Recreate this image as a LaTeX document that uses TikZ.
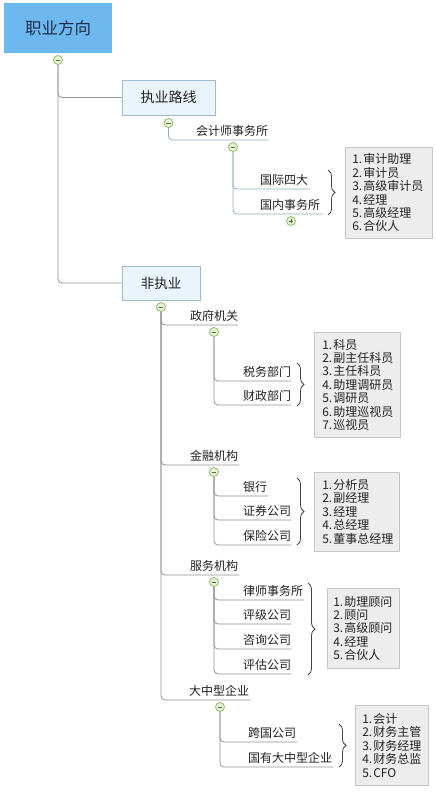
\documentclass[tikz,border=0pt]{standalone}
\usepackage{fontspec}
\setmainfont{Noto Sans CJK SC}
\usetikzlibrary{decorations.pathreplacing}
\definecolor{rootfill}{HTML}{6DB8EE}
\definecolor{roottext}{HTML}{1F2D4A}
\definecolor{subfill}{HTML}{EAF4FC}
\definecolor{subdraw}{HTML}{9DBBD3}
\definecolor{lineA}{HTML}{8FADBE}
\definecolor{lineB}{HTML}{939393}
\definecolor{graybox}{HTML}{EDEDED}
\definecolor{grayboxd}{HTML}{C6C6C6}
\definecolor{togg}{HTML}{86B85C}
\definecolor{toggfill}{HTML}{E6F3D6}
\definecolor{txt}{HTML}{222222}
\definecolor{bracec}{HTML}{444444}
\newcommand\lnum[1]{\makebox[11pt][l]{#1.}}
\begin{document}
\begin{tikzpicture}[x=1pt,y=-1pt,
  rootbox/.style={fill=rootfill, draw=none, minimum width=108pt, minimum height=50pt, inner sep=0pt, text=roottext, font=\fontsize{16.5pt}{18pt}\selectfont},
  subbox/.style={fill=subfill, draw=subdraw, line width=0.7pt, inner sep=0pt, text=txt},
  toggle/.style={circle, draw=togg, fill=toggfill, minimum size=9pt, inner sep=0pt, line width=0.7pt,
    path picture={\draw[togg!60!black, line width=0.8pt] ([xshift=-2.4pt]path picture bounding box.center) -- ([xshift=2.4pt]path picture bounding box.center);}},
  expandtoggle/.style={circle, draw=togg, fill=toggfill, minimum size=9pt, inner sep=0pt, line width=0.7pt,
    path picture={\draw[togg!60!black, line width=0.8pt] ([xshift=-2.4pt]path picture bounding box.center) -- ([xshift=2.4pt]path picture bounding box.center) ([yshift=-2.4pt]path picture bounding box.center) -- ([yshift=2.4pt]path picture bounding box.center);}},
  br/.style={anchor=south west, inner xsep=0pt, inner ysep=3pt, align=left, text height=9pt, text depth=1.5pt, font=\fontsize{12pt}{14pt}\selectfont, text=txt},
  lst/.style={anchor=north west, draw=grayboxd, fill=graybox, line width=0.6pt, align=left, inner xsep=7pt, inner ysep=0pt, font=\fontsize{12pt}{13.4pt}\selectfont, text=txt},
  connA/.style={draw=lineA, line width=0.8pt, rounded corners=4pt},
  connB/.style={draw=lineB, line width=0.8pt, rounded corners=4pt},
  brc/.style={draw=bracec, line width=0.8pt, decorate, decoration={brace, amplitude=7pt, aspect=0.5}}
]
\useasboundingbox (0,0) rectangle (436,792);
\fill[white] (0,0) rectangle (436,792);

% main boxes
\node[rootbox] (root) at (58,28) {职业方向};
\node[subbox, minimum width=93pt, minimum height=35pt, font=\fontsize{14pt}{16pt}\selectfont] (zy) at (168.5,97.5) {执业路线};
\node[subbox, minimum width=78pt, minimum height=34pt, font=\fontsize{13.5pt}{15pt}\selectfont] (fzy) at (161,283) {非执业};

% toggles
\node[toggle] (rc) at (58,60) {};
\node[toggle] (c1) at (168.5,123) {};
\node[toggle] (c2) at (233,147) {};
\node[expandtoggle] (c3) at (291,221) {};
\node[toggle] (c4) at (161,307) {};
\node[toggle] (c5) at (214,332) {};
\node[toggle] (c6) at (214,472) {};
\node[toggle] (c7) at (214,582) {};
\node[toggle] (c8) at (220,707) {};

% branch texts
\node[br, text width=72pt] (kjs) at (196,140) {会计师事务所};
\node[br, text width=50pt] (gjsd) at (260,189) {国际四大};
\node[br, text width=63pt] (gnsws) at (260,214) {国内事务所};

\node[br, text width=48pt] (zfjg) at (190,325) {政府机关};
\node[br, text width=48pt] (swbm) at (243,381) {税务部门};
\node[br, text width=48pt] (czbm) at (243,405) {财政部门};

\node[br, text width=49pt] (jrjg) at (190,465) {金融机构};
\node[br, text width=25pt] (yh) at (243,496) {银行};
\node[br, text width=48pt] (zqgs) at (243,520) {证券公司};
\node[br, text width=48pt] (bxgs) at (243,545) {保险公司};

\node[br, text width=49pt] (fwjg) at (190,575) {服务机构};
\node[br, text width=61pt] (lsswsn) at (243,600) {律师事务所};
\node[br, text width=48pt] (pjgs) at (243,624) {评级公司};
\node[br, text width=48pt] (zxgs) at (243,649) {咨询公司};
\node[br, text width=48pt] (pggs) at (243,674) {评估公司};

\node[br, text width=61pt] (dzxqy) at (189,700) {大中型企业};
\node[br, text width=49pt] (kggs) at (248,742) {跨国公司};
\node[br, text width=85pt] (gydzx) at (248,767) {国有大中型企业};

% connectors
\draw[connB] (rc.south) |- (zy.west);
\draw[connB] (rc.south) |- (fzy.west);
\draw[connA] (c1.south) |- (kjs.south east);
\draw[connA] (c2.south) |- (gjsd.south east);
\draw[connA] (c2.south) |- (gnsws.south east);

\draw[connB] (c4.south) |- (zfjg.south east);
\draw[connB] (c4.south) |- (jrjg.south east);
\draw[connB] (c4.south) |- (fwjg.south east);
\draw[connB] (c4.south) |- (dzxqy.south east);

\draw[connB] (c5.south) |- (swbm.south east);
\draw[connB] (c5.south) |- (czbm.south east);

\draw[connB] (c6.south) |- (yh.south east);
\draw[connB] (c6.south) |- (zqgs.south east);
\draw[connB] (c6.south) |- (bxgs.south east);

\draw[connB] (c7.south) |- (lsswsn.south east);
\draw[connB] (c7.south) |- (pjgs.south east);
\draw[connB] (c7.south) |- (zxgs.south east);
\draw[connB] (c7.south) |- (pggs.south east);

\draw[connB] (c8.south) |- (kggs.south east);
\draw[connB] (c8.south) |- (gydzx.south east);

% braces
\coordinate (b1t) at (328,170); \coordinate (b1b) at (328,215);
\coordinate (b2t) at (297,363); \coordinate (b2b) at (297,406);
\coordinate (b3t) at (297,478); \coordinate (b3b) at (297,545);
\coordinate (b4t) at (308,583); \coordinate (b4b) at (308,675);
\coordinate (b5t) at (339,724); \coordinate (b5b) at (339,767);
\draw[brc] (b1t) -- (b1b);
\draw[brc] (b2t) -- (b2b);
\draw[brc] (b3t) -- (b3b);
\draw[brc] (b4t) -- (b4b);
\draw[brc] (b5t) -- (b5b);

% lists
\node[lst, text width=73pt, minimum width=87pt, minimum height=91pt] (g1) at (345,147)
  {\lnum{1}审计助理\\\lnum{2}审计员\\\lnum{3}高级审计员\\\lnum{4}经理\\\lnum{5}高级经理\\\lnum{6}合伙人};
\node[lst, inner xsep=8pt, text width=70pt, minimum width=86pt, minimum height=105pt] (g2) at (314,332)
  {\lnum{1}科员\\\lnum{2}副主任科员\\\lnum{3}主任科员\\\lnum{4}助理调研员\\\lnum{5}调研员\\\lnum{6}助理巡视员\\\lnum{7}巡视员};
\node[lst, inner xsep=8pt, text width=69pt, minimum width=85pt, minimum height=79pt] (g3) at (314,472)
  {\lnum{1}分析员\\\lnum{2}副经理\\\lnum{3}经理\\\lnum{4}总经理\\\lnum{5}董事总经理};
\node[lst, inner xsep=6pt, text width=60pt, minimum width=72pt, minimum height=80pt] (g4) at (327,588)
  {\lnum{1}助理顾问\\\lnum{2}顾问\\\lnum{3}高级顾问\\\lnum{4}经理\\\lnum{5}合伙人};
\node[lst, text width=59pt, minimum width=73pt, minimum height=80pt] (g5) at (355,705)
  {\lnum{1}会计\\\lnum{2}财务主管\\\lnum{3}财务经理\\\lnum{4}财务总监\\\lnum{5}CFO};
\end{tikzpicture}
\end{document}
